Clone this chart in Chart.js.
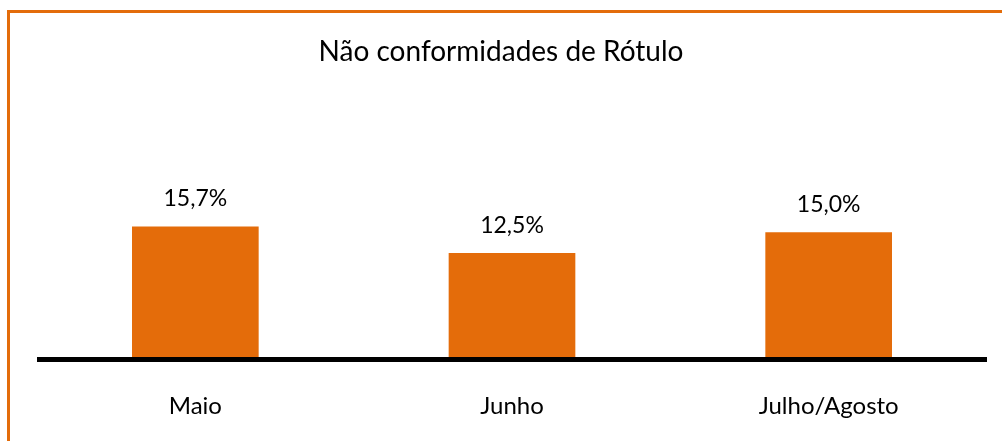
<!DOCTYPE html>
<html>
<head>
<meta charset="utf-8">
<script src="https://cdn.jsdelivr.net/npm/chart.js@4.4.1/dist/chart.umd.min.js"></script>
<style>
  html, body { margin: 0; padding: 0; background: #fff; }
  .page { position: relative; width: 1002px; height: 441px; overflow: hidden; }
  .frame {
    position: absolute; left: 7px; top: 10px; width: 1100px; height: 500px;
    border-left: 3px solid #e36c0a; border-top: 3px solid #e36c0a;
  }
  .chart-box { position: absolute; left: 0; top: 0; width: 1002px; height: 441px; }
</style>
</head>
<body>
<div class="page">
  <div class="frame"></div>
  <div class="chart-box"><canvas id="chart"></canvas></div>
</div>
<script>
const categories = ["Maio", "Junho", "Julho/Agosto"]
const percentValues = [15.7, 12.5, 15.0]
const chartTitle = "Não conformidades de Rótulo"

const orange = "#e46c0a"
const fontFamily = "Lato, 'Open Sans', sans-serif"

// percent labels above each bar, pt-BR decimal comma
const barLabels = {
  id: "barLabels",
  afterDatasetsDraw(chart) {
    const ctx = chart.ctx
    const meta = chart.getDatasetMeta(0)
    ctx.save()
    ctx.font = `23px ${fontFamily}`
    ctx.fillStyle = "#000"
    ctx.textAlign = "center"
    ctx.textBaseline = "alphabetic"
    meta.data.forEach((bar, i) => {
      const txt = percentValues[i].toFixed(1).replace(".", ",") + "%"
      ctx.fillText(txt, bar.x, bar.y - 20)
    })
    ctx.restore()
  },
}

// thick black baseline under the bars
const baseline = {
  id: "baseline",
  afterDatasetsDraw(chart) {
    const { ctx, chartArea } = chart
    const y = chart.scales.x.top
    ctx.save()
    ctx.strokeStyle = "#000"
    ctx.lineWidth = 5
    ctx.beginPath()
    ctx.moveTo(chartArea.left, y + 2.5)
    ctx.lineTo(chartArea.right, y + 2.5)
    ctx.stroke()
    ctx.restore()
  },
}

new Chart(document.getElementById("chart"), {
  type: "bar",
  data: {
    labels: categories,
    datasets: [
      {
        data: percentValues,
        backgroundColor: orange,
        borderWidth: 0,
        categoryPercentage: 1,
        barPercentage: 0.4,
      },
    ],
  },
  options: {
    responsive: true,
    maintainAspectRatio: false,
    animation: false,
    layout: { padding: { left: 15, right: 15, top: 0, bottom: 0 } },
    scales: {
      x: {
        grid: { display: false },
        border: { display: false },
        ticks: { color: "#000", font: { family: fontFamily, size: 24 }, padding: 27 },
        afterFit: (scale) => { scale.height = 84 },
      },
      y: {
        // kept invisible, only reserves the left gap before the baseline
        min: 0,
        max: 20,
        grid: { display: false },
        border: { display: false },
        ticks: { display: false },
        afterFit: (scale) => { scale.width = 22 },
      },
    },
    plugins: {
      legend: { display: false },
      tooltip: { enabled: false },
      title: {
        display: true,
        text: chartTitle,
        color: "#000",
        font: { family: fontFamily, size: 28, weight: "normal" },
        padding: { top: 35, bottom: 122 },
      },
    },
  },
  plugins: [barLabels, baseline],
})
</script>
</body>
</html>
